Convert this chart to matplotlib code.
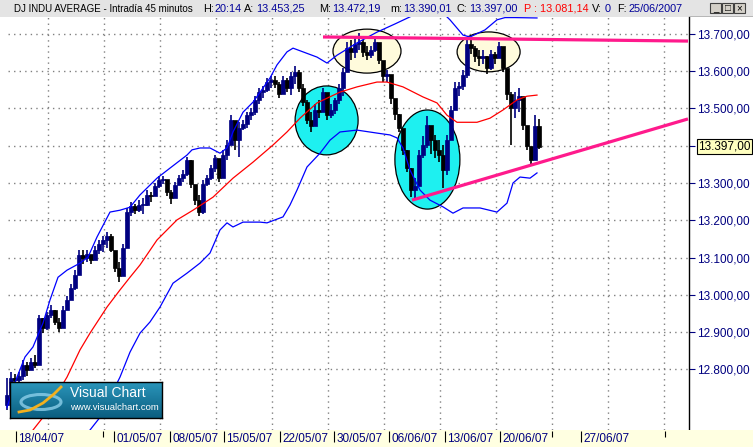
import numpy as np
import matplotlib
matplotlib.use("Agg")
import matplotlib.pyplot as plt
import matplotlib.transforms as mtransforms
from matplotlib.patches import Ellipse, Rectangle
from matplotlib.ticker import FixedLocator, FuncFormatter
from matplotlib.colors import LinearSegmentedColormap

plt.rcParams['font.family'] = ['Liberation Sans', 'DejaVu Sans']

# DJ INDU AVERAGE, 45 minute bars (x = bar number)
first_open = 12704
high = [12776, 12792, 12787, 12792, 12825, 12819, 12830, 12838, 12946, 12937,
        12954, 12972, 12959, 12937, 12970, 12997, 13029, 13066, 13120, 13120,
        13120, 13107, 13131, 13147, 13157, 13168, 13163, 13115, 13088, 13136,
        13233, 13249, 13243, 13254, 13260, 13281, 13276, 13300, 13318, 13318,
        13308, 13281, 13302, 13321, 13335, 13370, 13362, 13292, 13268, 13308,
        13321, 13348, 13375, 13362, 13389, 13415, 13482, 13455, 13463, 13469,
        13490, 13501, 13533, 13555, 13560, 13582, 13587, 13587, 13571, 13587,
        13582, 13598, 13614, 13603, 13565, 13523, 13490, 13512, 13523, 13555,
        13533, 13512, 13528, 13565, 13608, 13678, 13684, 13689, 13702, 13684,
        13668, 13668, 13692, 13673, 13619, 13603, 13576, 13523, 13485, 13442,
        13389, 13340, 13313, 13389, 13426, 13480, 13447, 13429, 13415, 13402,
        13429, 13506, 13571, 13571, 13603, 13684, 13684, 13668, 13657, 13657,
        13641, 13657, 13652, 13678, 13657, 13603, 13544, 13544, 13555, 13523,
        13447, 13394, 13482, 13472]
low = [12690, 12739, 12749, 12755, 12771, 12782, 12798, 12803, 12811, 12897,
       12905, 12937, 12919, 12900, 12932, 12959, 12986, 13013, 13072, 13082,
       13088, 13082, 13104, 13109, 13115, 13125, 13115, 13061, 13034, 13077,
       13136, 13211, 13217, 13222, 13217, 13238, 13249, 13270, 13286, 13297,
       13265, 13243, 13281, 13297, 13302, 13318, 13286, 13241, 13211, 13217,
       13292, 13308, 13329, 13302, 13318, 13362, 13415, 13389, 13370, 13442,
       13447, 13469, 13482, 13512, 13528, 13544, 13555, 13555, 13528, 13539,
       13544, 13536, 13565, 13544, 13506, 13458, 13437, 13469, 13474, 13490,
       13469, 13474, 13485, 13512, 13533, 13608, 13630, 13635, 13657, 13638,
       13630, 13635, 13652, 13619, 13571, 13571, 13512, 13469, 13437, 13375,
       13329, 13262, 13260, 13292, 13367, 13394, 13378, 13367, 13356, 13286,
       13321, 13437, 13501, 13533, 13550, 13582, 13646, 13625, 13614, 13619,
       13592, 13603, 13619, 13641, 13598, 13523, 13402, 13474, 13490, 13442,
       13389, 13348, 13372, 13390]
close = [12731, 12776, 12771, 12782, 12811, 12798, 12819, 12811, 12937, 12911,
         12946, 12959, 12927, 12911, 12959, 12986, 13018, 13053, 13107, 13099,
         13109, 13093, 13120, 13136, 13147, 13157, 13120, 13072, 13050, 13125,
         13222, 13238, 13227, 13241, 13241, 13268, 13265, 13292, 13308, 13310,
         13276, 13260, 13294, 13313, 13324, 13362, 13297, 13254, 13222, 13297,
         13313, 13340, 13367, 13313, 13375, 13402, 13469, 13415, 13447, 13458,
         13482, 13490, 13523, 13544, 13550, 13571, 13576, 13565, 13539, 13576,
         13555, 13587, 13598, 13555, 13517, 13469, 13453, 13496, 13490, 13544,
         13482, 13496, 13523, 13555, 13598, 13662, 13652, 13673, 13678, 13652,
         13643, 13657, 13678, 13630, 13587, 13592, 13528, 13485, 13447, 13389,
         13340, 13281, 13292, 13375, 13402, 13455, 13415, 13389, 13375, 13335,
         13415, 13496, 13555, 13560, 13590, 13673, 13662, 13641, 13635, 13641,
         13608, 13646, 13635, 13668, 13608, 13539, 13501, 13523, 13533, 13455,
         13399, 13362, 13453, 13397]

# Bollinger bands (bar number, value)
upper_x = [0, 2.5, 4.5, 6.5, 9, 10.75, 12.75, 15, 18.25, 20.25,
           22.5, 25.75, 28.25, 30.75, 33.25, 37.5, 40.75, 45, 46.25, 48.25,
           50.75, 53.25, 55, 56.5, 59, 61.5, 64, 65.75, 67.5, 70,
           71.5, 74, 77.5, 80, 82.5, 87.5, 92.5, 97, 100.75, 103.25,
           108.25, 110.75, 114, 115.75, 119.5, 122.5, 124.5, 127, 132.5]
upper_v = [12698, 12779, 12833, 12860, 12924, 12986, 13047, 13066, 13085, 13101,
           13155, 13222, 13227, 13235, 13268, 13313, 13340, 13375, 13389, 13394,
           13394, 13380, 13394, 13437, 13490, 13517, 13555, 13582, 13617, 13652,
           13662, 13652, 13638, 13622, 13643, 13676, 13705, 13727, 13746, 13764,
           13764, 13738, 13697, 13692, 13711, 13738, 13744, 13744, 13743]
mid_x = [6.5, 9, 15, 18.25, 20.75, 25, 28.25, 30.75, 33.25, 37.5,
         42.5, 46.5, 51.5, 56.5, 61.5, 66.5, 70, 73.25, 77.5, 83.25,
         87.5, 92.5, 95, 99, 104, 107.5, 110, 112.5, 117.5, 120.75,
         124, 127.5, 130, 132.5]
mid_v = [12637, 12671, 12779, 12852, 12897, 12967, 13013, 13047, 13080, 13147,
         13201, 13227, 13262, 13313, 13356, 13402, 13437, 13474, 13515, 13544,
         13558, 13571, 13571, 13558, 13531, 13515, 13482, 13463, 13463, 13474,
         13496, 13523, 13533, 13536]
lower_x = [20.75, 23.25, 28.25, 30.75, 33.25, 35.75, 38.25, 41.5, 45, 48.25,
           50.75, 53.25, 55, 56.5, 59, 63.25, 65, 69, 70.75, 72.5,
           75, 78.25, 80.75, 83.25, 87.5, 92.5, 95.75, 97.5, 99, 100.75,
           103.25, 105.75, 109, 111.5, 114, 118.25, 122.5, 125, 126.5, 128.25,
           130.75, 132.5]
lower_v = [12637, 12671, 12779, 12846, 12897, 12927, 12967, 13031, 13058, 13085,
           13112, 13174, 13193, 13182, 13195, 13195, 13193, 13209, 13241, 13281,
           13343, 13380, 13415, 13437, 13442, 13434, 13429, 13421, 13394, 13335,
           13281, 13254, 13236, 13219, 13233, 13233, 13222, 13246, 13300, 13316,
           13313, 13327]

# hand drawn lines and marks
resist_x = [79, 170.25]
resist_v = [13692, 13681]
support_x = [101.25, 170.25]
support_v = [13254, 13472]
# (bar, price, width in bars, height in points)
cyan_marks = [(79.9, 13468, 15.75, 185), (105.1, 13363, 16.25, 266)]
top_marks = [(90.0, 13654, 17.0, 118), (120.4, 13652, 15.75, 107)]

date_labels = ['18/04/07', '01/05/07', '08/05/07', '15/05/07', '22/05/07',
               '30/05/07', '06/06/07', '13/06/07', '20/06/07', '27/06/07']
date_pos = [2.25, 26.75, 40.75, 54.25, 68.25, 81.75, 95.5, 109.5, 123.25, 143.5]
extra_ticks = [24, 136.25, 164.5]
last_close = 13397


def fmt_price(v, pos=None):
    if abs(v - 13400) < 1:
        return ''
    s = f"{v:,.2f}"
    return s.replace(',', 'X').replace('.', ',').replace('X', '.')


W, H = 753, 447
NAVY = '#000080'
fig = plt.figure(figsize=(W / 100, H / 100), dpi=100)
fig.patch.set_facecolor('white')

x_left, x_right = -1.75, 170.5
ax = fig.add_axes([0, 17 / H, 689 / W, 413 / H])
ax.set_xlim(x_left, x_right)
ax.set_ylim(12637, 13745.6)
ax.set_facecolor('white')

# dotted grid
for v in np.arange(12800, 13701, 100):
    ax.axhline(v, xmin=8 / 689, color='#808080', lw=1, ls=(0, (1, 3)), zorder=0)
for gx in np.arange(10.2, x_right, 14):
    ax.axvline(gx, color='#808080', lw=1, ls=(0, (1, 3)), zorder=0)

for cx, cy, w, h in cyan_marks:
    ax.add_patch(Ellipse((cx, cy), w, h, fc='#1EF0F0', ec='black', lw=0.9, zorder=1))
for cx, cy, w, h in top_marks:
    ax.add_patch(Ellipse((cx, cy), w, h, fc='#FFFBDC', ec='black', lw=0.9, zorder=1))

# candles
close_a = np.array(close, dtype=float)
opens = np.concatenate([[first_open], close_a[:-1]])
xb = np.arange(len(close_a))
colors = np.where(close_a >= opens, NAVY, 'black')
ax.vlines(xb, low, high, colors=colors, lw=1.2, zorder=3)
body_h = np.maximum(np.abs(close_a - opens), 3)
ax.bar(xb, body_h, bottom=np.minimum(opens, close_a), width=0.95,
       color=colors, edgecolor=colors, lw=0.5, zorder=3)

ax.plot(upper_x, upper_v, color='#0000FF', lw=0.9, zorder=4)
ax.plot(lower_x, lower_v, color='#0000FF', lw=0.9, zorder=4)
ax.plot(mid_x, mid_v, color='#FF0000', lw=0.9, zorder=4)

ax.plot(resist_x, resist_v, color='#FF1A8C', lw=2.3, zorder=5, solid_capstyle='butt')
ax.plot(support_x, support_v, color='#FF1A8C', lw=2.3, zorder=5, solid_capstyle='butt')

for s in ['left', 'top', 'bottom']:
    ax.spines[s].set_visible(False)
ax.spines['right'].set_color('black')
ax.spines['right'].set_linewidth(1)
ax.set_xticks([])
ax.yaxis.tick_right()
ax.yaxis.set_major_locator(FixedLocator(np.arange(12800, 13701, 100)))
ax.yaxis.set_major_formatter(FuncFormatter(fmt_price))
ax.tick_params(axis='y', direction='out', length=4.5, width=0.8, color=NAVY,
               labelsize=8.5, labelcolor=NAVY, pad=1.5)

trans = mtransforms.blended_transform_factory(ax.transAxes, ax.transData)
ax.text(698 / 689, last_close, fmt_price(last_close), transform=trans, fontsize=8.5,
        color='black', va='center', ha='left', clip_on=False, zorder=10,
        bbox=dict(boxstyle='square,pad=0.12', fc='#FFFFC0', ec='black', lw=0.8))

# bottom date band
bx = fig.add_axes([0, 0, 1, 17 / H])
bx.set_facecolor('#FFFFE1')
bx.set_xlim(x_left, x_left + W / 4)
bx.set_ylim(0, 1)
for s in bx.spines.values():
    s.set_visible(False)
bx.set_xticks([])
bx.set_yticks([])
for p, lab in zip(date_pos, date_labels):
    bx.vlines(p, 0.3, 0.95, color='black', lw=0.8)
    bx.text(p + 0.6, 0.47, lab, fontsize=8.5, color=NAVY, va='center', ha='left')
bx.vlines(extra_ticks, 0.6, 0.95, color='black', lw=0.8)

# header
hx = fig.add_axes([0, (H - 17) / H, 1, 17 / H])
hx.set_facecolor('#E4E4E4')
hx.set_xlim(0, W)
hx.set_ylim(17, 0)
for s in hx.spines.values():
    s.set_visible(False)
hx.set_xticks([])
hx.set_yticks([])
hx.text(14, 8.5, 'DJ INDU AVERAGE - Intradía 45 minutos', fontsize=7.0,
        color='black', va='center', ha='left')
header = [(203, 'H:', 'black'), (215, '20:14', '#000099'),
          (244, 'A:', 'black'), (256, '13.453,25', '#000099'),
          (319, 'M:', 'black'), (332, '13.472,19', '#000099'),
          (390, 'm:', 'black'), (403, '13.390,01', '#000099'),
          (457, 'C:', 'black'), (469, '13.397,00', '#000099'),
          (524, 'P : 13.081,14', '#FF0000'),
          (592, 'V:', 'black'), (605, '0', '#000099'),
          (617, 'F:', 'black'), (629, '25/06/2007', '#000099')]
for hxp, txt, col in header:
    hx.text(hxp, 8.5, txt, fontsize=7.8, color=col, va='center', ha='left')
for bxp, sym in zip([710, 722, 734], ['_', '□', '×']):
    hx.add_patch(Rectangle((bxp, 3), 11, 10, fc='#D4D0C8', ec='#404040', lw=0.8))
    hx.text(bxp + 5.5, 8, sym, fontsize=7, ha='center', va='center', color='black')
hx.plot([689, W], [16.5, 16.5], color='black', lw=1)

# Visual Chart logo
lx = fig.add_axes([10 / W, (H - 418) / H, 152 / W, 36 / H])
cmap = LinearSegmentedColormap.from_list('vc', ['#2A95BA', '#0B5E80'])
lx.imshow(np.linspace(0, 1, 40).reshape(-1, 1), aspect='auto', cmap=cmap,
          extent=[0, 152, 36, 0])
lx.set_xlim(0, 152)
lx.set_ylim(36, 0)
for s in lx.spines.values():
    s.set_color('black')
    s.set_linewidth(1)
lx.set_xticks([])
lx.set_yticks([])
lx.add_patch(Ellipse((31, 20), 40, 15, fc='none', ec='#8CCFEA', lw=2.2, alpha=0.8))
lx.plot([9, 20, 33, 44, 51], [30, 28, 21, 12, 5], color='#F2B01E', lw=2)
lx.text(60, 11, 'Visual Chart', fontsize=10, color='white', va='center', ha='left')
lx.text(60, 26, 'www.visualchart.com', fontsize=6.8, color='white', va='center', ha='left')

fig.savefig('out.png', dpi=100)
